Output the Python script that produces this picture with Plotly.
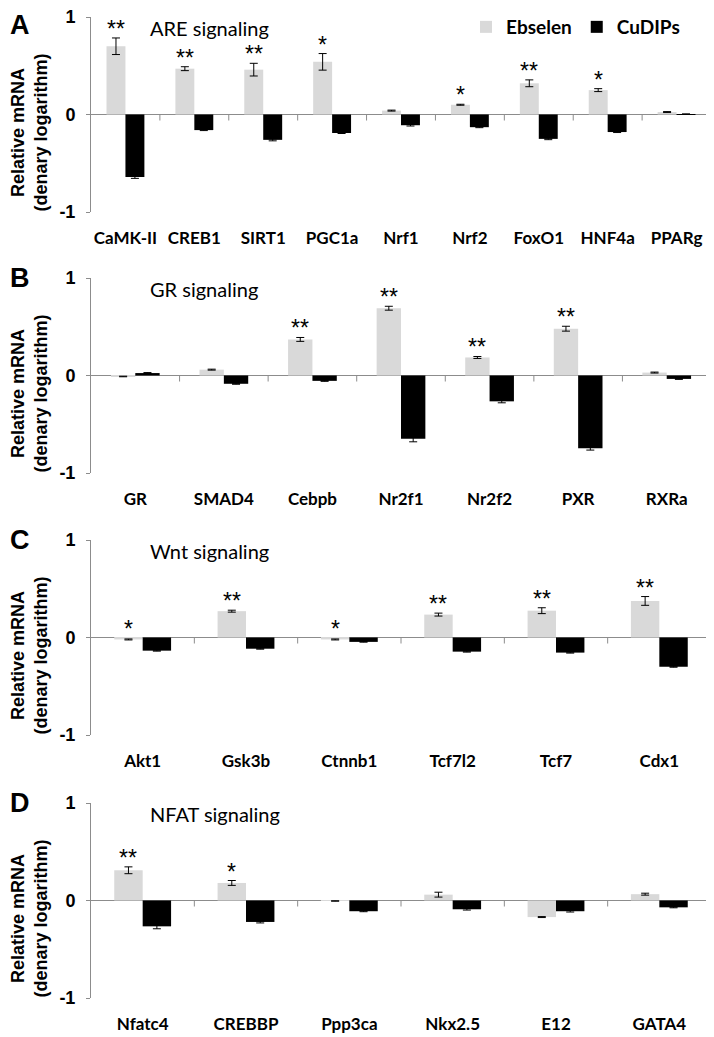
import plotly.graph_objects as go

# ---------------- data ----------------
cats_A = ["CaMK-II", "CREB1", "SIRT1", "PGC1a", "Nrf1", "Nrf2", "FoxO1", "HNF4a", "PPARg"]
ebs_A = [0.70, 0.47, 0.46, 0.54, 0.04, 0.10, 0.32, 0.25, 0.025]
ebs_err_A = [0.085, 0.02, 0.065, 0.085, 0.005, 0.005, 0.035, 0.015, 0.005]
cu_A = [-0.64, -0.16, -0.26, -0.19, -0.11, -0.13, -0.25, -0.18, 0.004]
cu_err_A = [0.015, 0.005, 0.01, 0.005, 0.008, 0.005, 0.008, 0.005, 0.002]
sig_A = ["**", "**", "**", "*", "", "*", "**", "*", ""]

cats_B = ["GR", "SMAD4", "Cebpb", "Nr2f1", "Nr2f2", "PXR", "RXRa"]
ebs_B = [-0.01, 0.06, 0.37, 0.69, 0.185, 0.48, 0.03]
ebs_err_B = [0.003, 0.005, 0.02, 0.02, 0.01, 0.025, 0.005]
cu_B = [0.025, -0.085, -0.055, -0.65, -0.265, -0.745, -0.035]
cu_err_B = [0.005, 0.005, 0.005, 0.03, 0.015, 0.02, 0.005]
sig_B = ["", "", "**", "**", "**", "**", ""]

cats_C = ["Akt1", "Gsk3b", "Ctnnb1", "Tcf7l2", "Tcf7", "Cdx1"]
ebs_C = [-0.02, 0.27, -0.02, 0.235, 0.275, 0.375]
ebs_err_C = [0.005, 0.01, 0.005, 0.015, 0.03, 0.045]
cu_C = [-0.135, -0.115, -0.045, -0.145, -0.155, -0.30]
cu_err_C = [0.005, 0.005, 0.003, 0.005, 0.005, 0.005]
sig_C = ["*", "**", "*", "**", "**", "**"]

cats_D = ["Nfatc4", "CREBBP", "Ppp3ca", "Nkx2.5", "E12", "GATA4"]
ebs_D = [0.31, 0.18, -0.005, 0.06, -0.17, 0.065]
ebs_err_D = [0.035, 0.025, 0.002, 0.025, 0.005, 0.01]
cu_D = [-0.265, -0.22, -0.11, -0.09, -0.11, -0.07]
cu_err_D = [0.025, 0.01, 0.005, 0.008, 0.008, 0.005]
sig_D = ["**", "*", "", "", "", ""]

panel_letters = ["A", "B", "C", "D"]
panel_titles = ["ARE signaling", "GR signaling", "Wnt signaling", "NFAT signaling"]
series_names = ["Ebselen", "CuDIPs"]
y_ticks = [-1, 0, 1]
y_title = "Relative mRNA<br>(denary logarithm)"

panels = [
    (cats_A, ebs_A, ebs_err_A, cu_A, cu_err_A, sig_A),
    (cats_B, ebs_B, ebs_err_B, cu_B, cu_err_B, sig_B),
    (cats_C, ebs_C, ebs_err_C, cu_C, cu_err_C, sig_C),
    (cats_D, ebs_D, ebs_err_D, cu_D, cu_err_D, sig_D),
]

# ---------------- layout helpers ----------------
# the page body keeps its default 8px margin, so the figure is sized to fit
OFF = 8
FW, FH = 714 - OFF, 1037 - OFF
def px(x):
    return (x - OFF) / FW
def py(y):
    return 1 - (y - OFF) / FH

PLOT_LEFT, PLOT_RIGHT = 91, 711
TOPS = [17, 278, 540, 803]
PH = 195

LIGHT = "#d9d9d9"
DARK = "#000000"
AXC = "#8c8c8c"
LABEL_FONT = dict(family="Lato", size=17, color="black", weight="bold")
NUM_FONT = dict(family="Liberation Sans", size=18, color="black", weight="bold")

fig = go.Figure()
annotations = []
shapes = []

for k, (cats, ebs, ebs_err, cu, cu_err, sig) in enumerate(panels):
    n = len(cats)
    idx = list(range(n))
    xa = "x" if k == 0 else f"x{k+1}"
    ya = "y" if k == 0 else f"y{k+1}"
    fig.add_trace(go.Bar(
        x=idx, y=ebs, name=series_names[0], marker=dict(color=LIGHT, line=dict(width=0)),
        error_y=dict(type="data", array=ebs_err, color="black", thickness=1, width=4),
        xaxis=xa, yaxis=ya, showlegend=(k == 0), legendgroup="e",
    ))
    fig.add_trace(go.Bar(
        x=idx, y=cu, name=series_names[1], marker=dict(color=DARK, line=dict(width=0)),
        error_y=dict(type="data", array=cu_err, color="black", thickness=1, width=4),
        xaxis=xa, yaxis=ya, showlegend=(k == 0), legendgroup="c",
    ))
    top = TOPS[k]
    dom = [py(top + PH), py(top)]
    xkey = "xaxis" if k == 0 else f"xaxis{k+1}"
    ykey = "yaxis" if k == 0 else f"yaxis{k+1}"
    fig.update_layout(**{
        xkey: dict(
            domain=[px(PLOT_LEFT), px(PLOT_RIGHT)], anchor=ya, range=[-0.5, n - 0.5],
            tickmode="array", tickvals=idx, ticktext=cats, showline=False, showgrid=False,
            zeroline=False, ticks="", tickfont=LABEL_FONT, ticklabelstandoff=14,
            automargin=False, ticklabeloverflow="allow",
        ),
        ykey: dict(
            domain=dom, anchor=xa, range=[-1, 1], tickmode="array", tickvals=y_ticks,
            ticktext=[str(v) for v in y_ticks], showline=True, linecolor=AXC, linewidth=1,
            ticks="outside", ticklen=4, tickcolor=AXC, showgrid=False,
            zeroline=True, zerolinecolor=AXC, zerolinewidth=1, tickfont=NUM_FONT,
            ticklabelstandoff=7, automargin=False, ticklabeloverflow="allow",
        ),
    })
    # category boundary ticks on the zero line
    for b in range(n):
        shapes.append(dict(
            type="line", xref=xa, yref=ya, x0=b + 0.5, x1=b + 0.5,
            ysizemode="pixel", yanchor=0, y0=0, y1=-6,
            line=dict(color=AXC, width=1),
        ))
    # significance stars
    for i in range(n):
        if sig[i]:
            ytop = max(ebs[i] + ebs_err[i], 0)
            annotations.append(dict(
                x=i - 0.1375, y=ytop, xref=xa, yref=ya, text=sig[i], showarrow=False,
                yanchor="bottom", xanchor="center", yshift=-6,
                font=dict(family="Liberation Sans", size=23, color="black"),
            ))
    # panel letter
    if k == 0:
        annotations.append(dict(
            x=px(OFF), y=1, xref="paper", yref="paper", text=panel_letters[k],
            showarrow=False, xanchor="left", yanchor="top",
            font=dict(family="Liberation Sans", size=27, color="black", weight="bold"),
        ))
    else:
        annotations.append(dict(
            x=px(OFF), y=py(top), xref="paper", yref="paper", text=panel_letters[k],
            showarrow=False, xanchor="left", yanchor="middle",
            font=dict(family="Liberation Sans", size=27, color="black", weight="bold"),
        ))
    # panel title
    annotations.append(dict(
        x=px(148), y=py(top + 11), xref="paper", yref="paper", text=panel_titles[k],
        showarrow=False, xanchor="left", yanchor="middle",
        font=dict(family="Lato", size=20, color="black"),
    ))
    # y title
    annotations.append(dict(
        x=px(29), y=py(top + PH / 2 + 18), xref="paper", yref="paper", text=y_title,
        showarrow=False, xanchor="center", yanchor="middle", textangle=-90,
        font=dict(family="Liberation Sans", size=18, color="black", weight="bold"),
    ))

fig.update_layout(
    width=FW, height=FH, margin=dict(l=0, r=0, t=0, b=0, autoexpand=False),
    paper_bgcolor="white", plot_bgcolor="white",
    barmode="group", bargap=0.45, bargroupgap=0,
    showlegend=True,
    legend=dict(
        orientation="h", x=px(466), y=1, xanchor="left", yanchor="top",
        font=dict(family="Lato", size=19, color="black", weight="bold"),
        itemwidth=30, bgcolor="rgba(0,0,0,0)", traceorder="normal",
    ),
    annotations=annotations, shapes=shapes,
)

fig.write_html("out.html")
